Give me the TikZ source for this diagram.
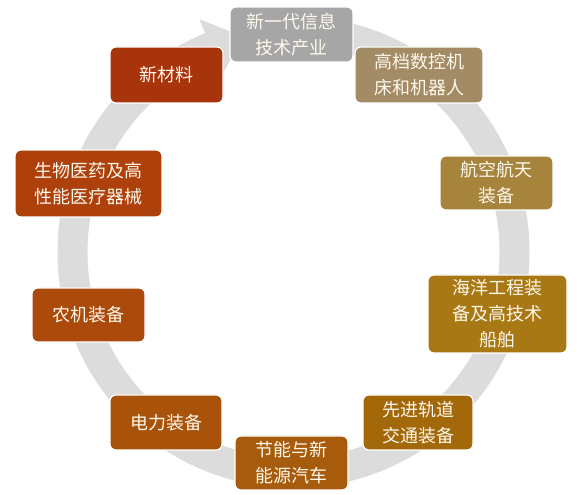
\documentclass[tikz,border=0pt]{standalone}
\usepackage{xcolor}
\usepackage{fontspec}
\newfontfamily\cjk{Noto Sans CJK SC}
\usepackage{tikz}
\usetikzlibrary{positioning,calc}

\definecolor{ringgray}{HTML}{DCDCDC}
\definecolor{boxtext}{HTML}{FFF8EC}
\definecolor{cInfo}{HTML}{A6A6A6}
\definecolor{cRobot}{HTML}{A38B65}
\definecolor{cAero}{HTML}{A6843C}
\definecolor{cOcean}{HTML}{A87814}
\definecolor{cRail}{HTML}{A3680A}
\definecolor{cAuto}{HTML}{A65C0C}
\definecolor{cPower}{HTML}{A8520A}
\definecolor{cAgri}{HTML}{AC4A0C}
\definecolor{cBio}{HTML}{AE400C}
\definecolor{cMaterial}{HTML}{A8340C}

\begin{document}
\begin{tikzpicture}[
        x=1pt, y=1pt,
        field/.style={rectangle, rounded corners=6pt, draw=white, line width=1.2pt, text=boxtext, align=center, inner sep=0pt, font=\cjk\fontsize{18}{26}\selectfont},
        ring/.style={draw=ringgray, line width=30pt}
    ]
        \useasboundingbox (0,0) rectangle (587,495);
        \coordinate (hub) at (293.5,243);

        % circular arrow behind the boxes
        \draw[ring] ($(hub)+(85:221pt)$) arc[start angle=85, end angle=-248, radius=221pt];
        \fill[ringgray] ($(hub)+(112:251pt)$) -- ($(hub)+(103:221pt)$) -- ($(hub)+(112:191pt)$) -- cycle;

        \node[field, fill=cInfo, minimum width=123pt, minimum height=55pt] (info) at (291.5,460.5) {新一代信息\\技术产业};
        \node[field, fill=cRobot, minimum width=128pt, minimum height=56pt] (robot) at (419,420) {高档数控机\\床和机器人};
        \node[field, fill=cAero, minimum width=113pt, minimum height=54pt] (aero) at (496.5,312) {航空航天\\装备};
        \node[field, fill=cOcean, minimum width=139pt, minimum height=78pt] (ocean) at (497.5,181) {海洋工程装\\备及高技术\\船舶};
        \node[field, fill=cRail, minimum width=110pt, minimum height=55pt] (rail) at (418,72.5) {先进轨道\\交通装备};
        \node[field, fill=cAuto, minimum width=113pt, minimum height=54pt] (auto) at (291.5,32) {节能与新\\能源汽车};
        \node[field, fill=cPower, minimum width=112pt, minimum height=55pt] (power) at (166,72.5) {电力装备};
        \node[field, fill=cAgri, minimum width=113pt, minimum height=54pt] (agri) at (88.5,180) {农机装备};
        \node[field, fill=cBio, minimum width=147pt, minimum height=67pt] (bio) at (88.5,311.5) {生物医药及高\\性能医疗器械};
        \node[field, fill=cMaterial, minimum width=113pt, minimum height=56pt] (material) at (166.5,420) {新材料};
    \end{tikzpicture}
\end{document}
